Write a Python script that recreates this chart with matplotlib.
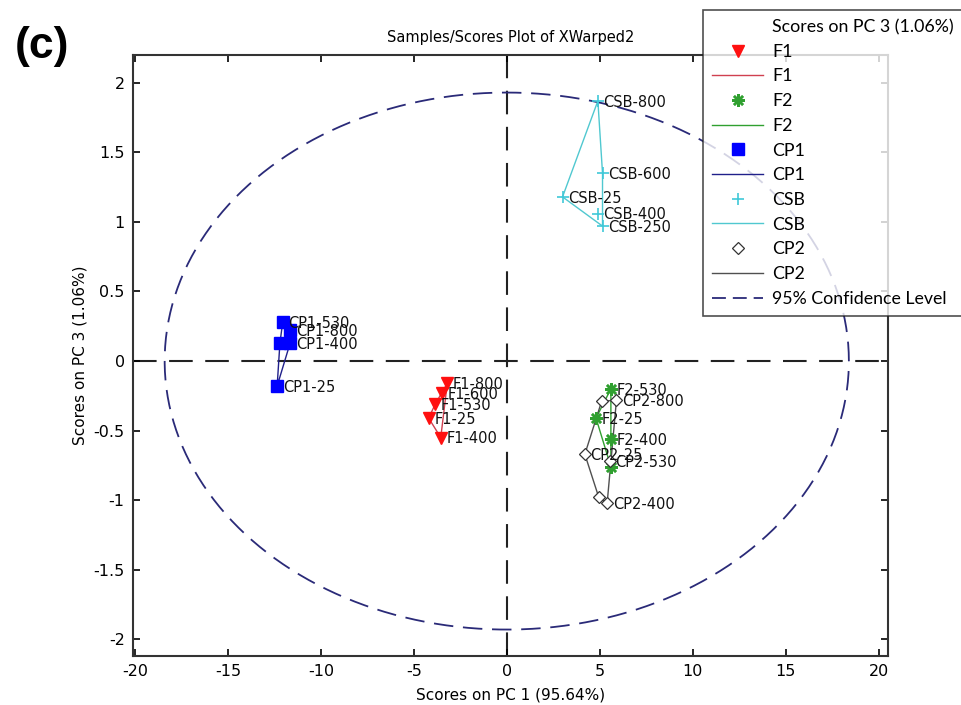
import numpy as np
import matplotlib
matplotlib.use('Agg')
import matplotlib.pyplot as plt
from matplotlib.lines import Line2D

plt.rcParams['lines.scale_dashes'] = False

# ---------- datos ----------
f1_x = [-3.2, -3.5, -3.85, -4.2, -3.55]
f1_y = [-0.16, -0.23, -0.31, -0.41, -0.55]
f1_lab = ['F1-800', 'F1-600', 'F1-530', 'F1-25', 'F1-400']

f2_x = [5.6, 4.8, 5.6, 5.6]
f2_y = [-0.2, -0.41, -0.56, -0.76]
f2_lab = ['F2-530', 'F2-25', 'F2-400', '']

cp1_x = [-12.05, -11.65, -12.2, -11.65, -12.35]
cp1_y = [0.28, 0.22, 0.13, 0.13, -0.18]
cp1_lab = ['CP1-530', 'CP1-800', '', 'CP1-400', 'CP1-25']

csb_x = [4.9, 5.15, 3.0, 4.9, 5.15]
csb_y = [1.87, 1.35, 1.18, 1.06, 0.97]
csb_lab = ['CSB-800', 'CSB-600', 'CSB-25', 'CSB-400', 'CSB-250']

cp2_x = [5.1, 5.9, 4.2, 5.55, 4.95, 5.4]
cp2_y = [-0.29, -0.28, -0.67, -0.72, -0.98, -1.02]
cp2_lab = ['', 'CP2-800', 'CP2-25', 'CP2-530', '', 'CP2-400']

conf_a = 18.4   # semieje PC1
conf_b = 1.93   # semieje PC3

x_ticks = [-20, -15, -10, -5, 0, 5, 10, 15, 20]
y_ticks = [-2, -1.5, -1, -0.5, 0, 0.5, 1, 1.5, 2]


def hull(xs, ys):
    ''' envolvente convexa (monotone chain), cerrada '''
    pts = sorted(set(zip(xs, ys)))
    def cross(o, a, b):
        return (a[0]-o[0])*(b[1]-o[1]) - (a[1]-o[1])*(b[0]-o[0])
    lo, up = [], []
    for p in pts:
        while len(lo) >= 2 and cross(lo[-2], lo[-1], p) <= 0:
            lo.pop()
        lo.append(p)
    for p in reversed(pts):
        while len(up) >= 2 and cross(up[-2], up[-1], p) <= 0:
            up.pop()
        up.append(p)
    h = lo[:-1] + up[:-1]
    h.append(h[0])
    return [p[0] for p in h], [p[1] for p in h]


fig = plt.figure(figsize=(9.62, 7.05), dpi=100)
ax = fig.add_axes([0.1383, 0.0695, 0.7847, 0.8525])

# lineas de cero
ax.axhline(0, color='#222222', lw=1.5, dashes=(17, 9), zorder=1)
ax.axvline(0, color='#222222', lw=1.5, dashes=(17, 9), zorder=1)

groups = [
    (f1_x, f1_y, f1_lab, 'F1', dict(marker='v', color='#ff1010', ms=9, mec='#ff1010'), '#d04050'),
    (f2_x, f2_y, f2_lab, 'F2', dict(marker=(8, 2, 0), color='#30a030', ms=9, mew=1.8), '#30a030'),
    (cp1_x, cp1_y, cp1_lab, 'CP1', dict(marker='s', color='#0000ff', ms=8.5, mec='#0000ff'), '#20208a'),
    (csb_x, csb_y, csb_lab, 'CSB', dict(marker='+', color='#40c8d8', ms=9, mew=1.2), '#50c8d0'),
    (cp2_x, cp2_y, cp2_lab, 'CP2', dict(marker='D', color='#333333', mfc='white', ms=6.5, mew=0.9), '#505050'),
]

handles = [Line2D([], [], ls='none', marker='none')]
labels = ['Scores on PC 3 (1.06%)']
for xs, ys, labs, name, mk, lc in groups:
    hx, hy = hull(xs, ys)
    ax.plot(hx, hy, color=lc, lw=1.0, zorder=2)
    ax.plot(xs, ys, ls='none', zorder=3, **mk)
    for x, y, t in zip(xs, ys, labs):
        if t:
            ax.annotate(t, (x, y), xytext=(4, -1), textcoords='offset points',
                        va='center', ha='left', fontsize=10.5, color='#111111', zorder=4)
    handles.append(Line2D([], [], ls='none', **mk))
    labels.append(name)
    handles.append(Line2D([], [], color=lc, lw=1.0))
    labels.append(name)

# elipse de confianza 95%
th = np.linspace(0, 2*np.pi, 400)
ax.plot(conf_a*np.cos(th), conf_b*np.sin(th), color='#2a2a78', lw=1.3, dashes=(14, 7), zorder=1)
handles.append(Line2D([], [], color='#2a2a78', lw=1.3, dashes=(10, 5)))
labels.append('95% Confidence Level')

ax.set_xlim(-20.1, 20.5)
ax.set_ylim(-2.12, 2.2)
ax.set_xticks(x_ticks)
ax.set_yticks(y_ticks)
ax.set_xticklabels([f'{v:g}' for v in x_ticks])
ax.set_yticklabels([f'{v:g}' for v in y_ticks])
ax.tick_params(direction='in', top=True, right=True, labelsize=11.5, length=5, width=1.2, pad=6)
for s in ax.spines.values():
    s.set_linewidth(1.5)
    s.set_color('#333333')

ax.set_title('Samples/Scores Plot of XWarped2', fontsize=10.5, pad=9)
ax.set_xlabel('Scores on PC 1 (95.64%)', fontsize=11, labelpad=6)
ax.set_ylabel('Scores on PC 3 (1.06%)', fontsize=11, labelpad=4)

leg = fig.legend(handles, labels, loc='upper left', bbox_to_anchor=(703/962, 1 - 10/705),
                 frameon=True, fancybox=False, edgecolor='#222222',
                 labelspacing=0.49, handlelength=2.9, handletextpad=0.5,
                 borderpad=0.5, borderaxespad=0, prop={'family': 'Lato', 'size': 12.8})
leg.get_frame().set_linewidth(1.2)

fig.text(0.015, 0.934, '(c)', fontsize=32, fontweight='bold', family='Liberation Sans',
         va='center', ha='left')

fig.savefig('out.png', dpi=100)
